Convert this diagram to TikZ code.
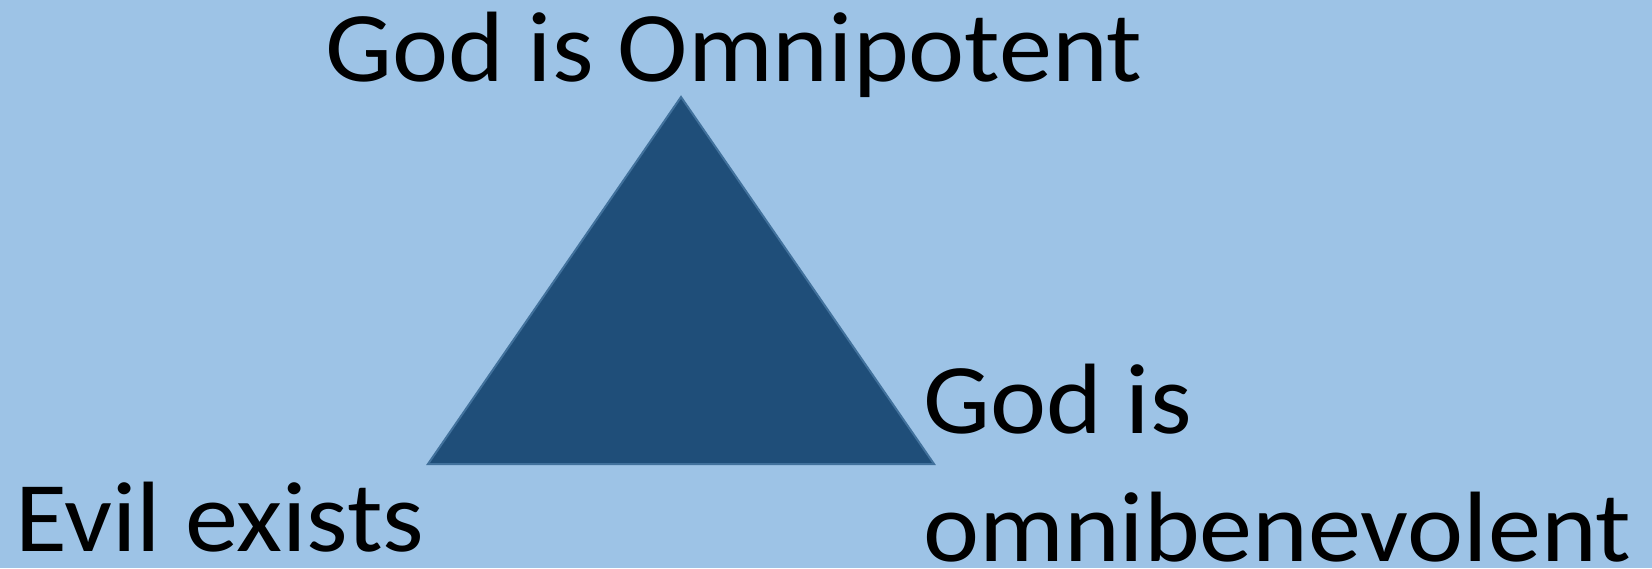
\documentclass[tikz,border=0pt]{standalone}
\usepackage{fontspec}
\setmainfont{Carlito}[FakeStretch=1.062]
\definecolor{bgblue}{HTML}{9DC3E6}
\definecolor{trifill}{HTML}{1F4E79}
\definecolor{triline}{HTML}{41719C}
\begin{document}
\begin{tikzpicture}[x=1pt,y=-1pt,
  lab/.style={inner sep=0pt,anchor=base west,align=left,font=\fontsize{100}{128}\selectfont},
  tri/.style={fill=trifill,draw=triline,line width=2pt,line join=miter}]
\fill[bgblue] (0,0) rectangle (1652,568);
\useasboundingbox (0,0) rectangle (1652,568);
\coordinate (top) at (681,97);
\coordinate (bl) at (428,464);
\coordinate (br) at (934,464);
\draw[tri] (top) -- (br) -- (bl) -- cycle;
\node[lab] (omnip) at (325,81) {God is Omnipotent};
\node[lab] (omnib) at (923,561) {God is\\omnibenevolent};
\node[lab] (evil) at (15,551) {Evil exists};
\end{tikzpicture}
\end{document}
